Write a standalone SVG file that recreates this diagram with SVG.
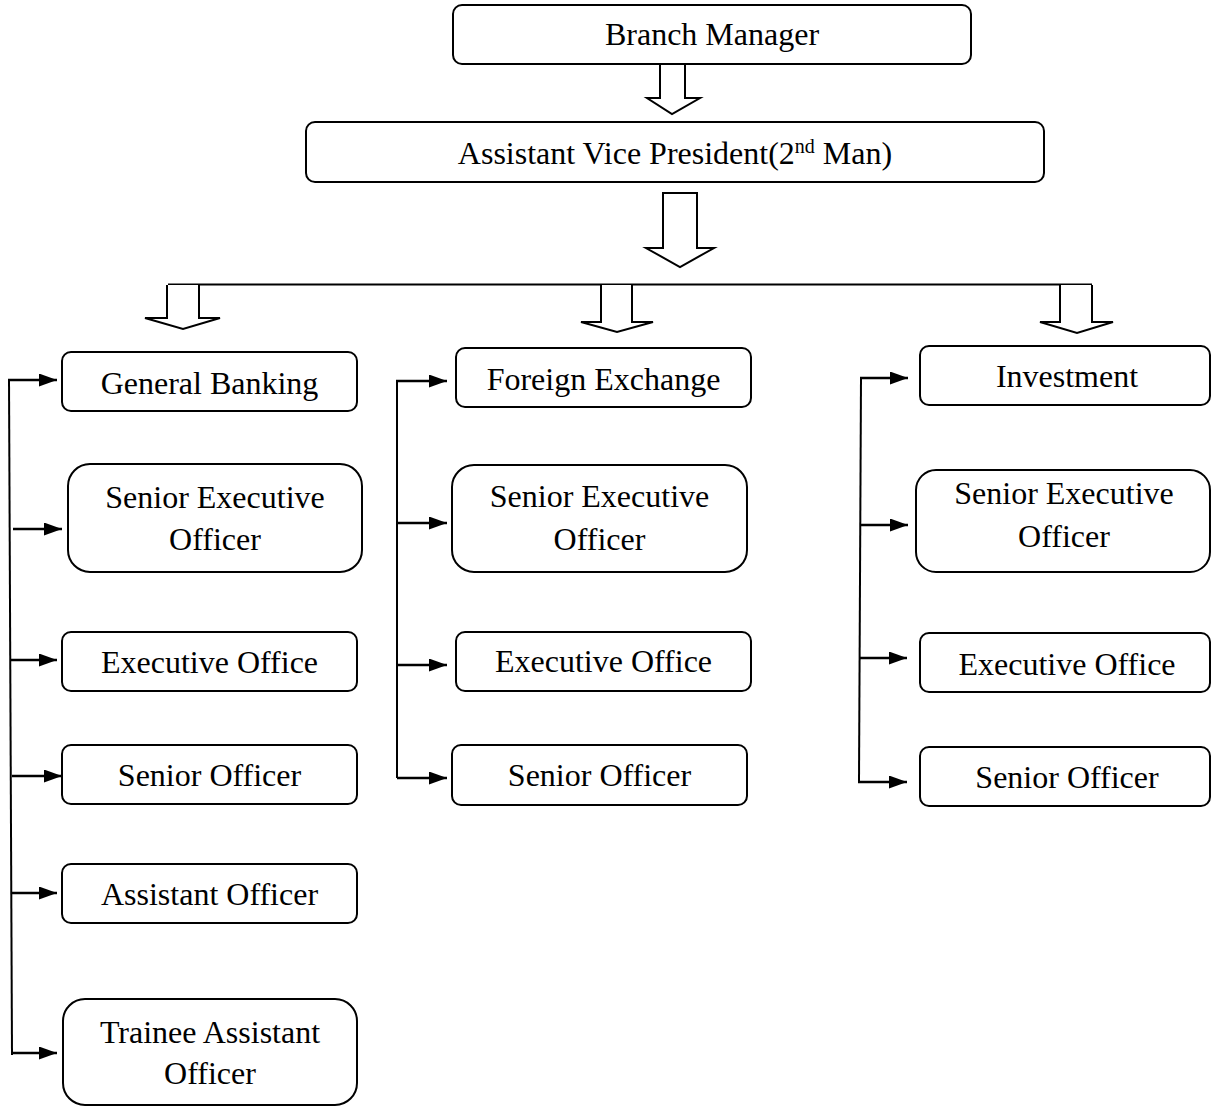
<svg xmlns="http://www.w3.org/2000/svg" width="1211" height="1107" viewBox="0 0 1211 1107">
<defs>
<marker id="ah" viewBox="0 0 18 13" refX="18" refY="6.5" markerWidth="18" markerHeight="13" markerUnits="userSpaceOnUse" orient="auto">
<path d="M0,0 L18,6.5 L0,13 z" fill="#000"/>
</marker>
<style>
.box{fill:#fff;stroke:#000;stroke-width:2}
.t{font-family:"Liberation Serif","Times New Roman",serif;font-size:32px;fill:#000;text-anchor:middle}
.ln{fill:none;stroke:#000;stroke-width:2}
.ar{fill:none;stroke:#000;stroke-width:2.5;marker-end:url(#ah)}
.blk{fill:#fff;stroke:#000;stroke-width:2;stroke-linejoin:miter}
</style>
</defs>
<rect width="1211" height="1107" fill="#fff"/>

<g id="connectors">
<line class="ln" x1="168" y1="284.5" x2="1092" y2="284.5"/>
<path class="blk" d="M660,64 L660,98 L647,98 L672,114 L700,98 L685,98 L685,64"/>
<path class="blk" d="M663,193 L663,248 L646,248 L680,267 L714,248 L697,248 L697,193 Z"/>
<path class="blk" d="M167,285 L167,318 L145,318 L183,329 L220,318 L199,318 L199,285"/>
<path class="blk" d="M601,285 L601,322 L581,322 L617,332 L653,322 L632,322 L632,285"/>
<path class="blk" d="M1060,285 L1060,322 L1040,322 L1077,333 L1113,322 L1092,322 L1092,285"/>
<line class="ln" x1="9" y1="379" x2="12" y2="1055"/>
<path class="ar" d="M8,380 L57,380"/>
<path class="ar" d="M13,529 L62,529"/>
<path class="ar" d="M11,660 L57,660"/>
<path class="ar" d="M12,776 L62,776"/>
<path class="ar" d="M12,893 L57,893"/>
<path class="ar" d="M11,1053 L57,1053"/>
<line class="ln" x1="397" y1="380" x2="397" y2="778"/>
<path class="ar" d="M396,381 L447,381"/>
<path class="ar" d="M397,523 L447,523"/>
<path class="ar" d="M397,665 L447,665"/>
<path class="ar" d="M397,778 L447,778"/>
<line class="ln" x1="861" y1="378" x2="859" y2="782"/>
<path class="ar" d="M860,378 L908,378"/>
<path class="ar" d="M860,525 L908,525"/>
<path class="ar" d="M859,658 L907,658"/>
<path class="ar" d="M858,782 L907,782"/>
</g>

<g id="branch-manager">
<rect class="box" x="453" y="5" width="518" height="59" rx="9"/>
<text class="t" x="712" y="45">Branch Manager</text>
</g>
<g id="avp">
<rect class="box" x="306" y="122" width="738" height="60" rx="9"/>
<text class="t" x="675" y="164">Assistant Vice President(2<tspan font-size="20" dy="-11">nd</tspan><tspan dy="11"> Man)</tspan></text>
</g>

<g id="general-banking">
<rect class="box" x="62" y="352" width="295" height="59" rx="9"/>
<text class="t" x="209.5" y="394">General Banking</text>
</g>
<g id="gb-seo">
<rect class="box" x="68" y="464" width="294" height="108" rx="22"/>
<text class="t" x="215" y="508">Senior Executive</text>
<text class="t" x="215" y="550">Officer</text>
</g>
<g id="gb-eo">
<rect class="box" x="62" y="632" width="295" height="59" rx="9"/>
<text class="t" x="209.5" y="673">Executive Office</text>
</g>
<g id="gb-so">
<rect class="box" x="62" y="745" width="295" height="59" rx="9"/>
<text class="t" x="209.5" y="786">Senior Officer</text>
</g>
<g id="gb-ao">
<rect class="box" x="62" y="864" width="295" height="59" rx="9"/>
<text class="t" x="209.5" y="905">Assistant Officer</text>
</g>
<g id="gb-tao">
<rect class="box" x="63" y="999" width="294" height="106" rx="22"/>
<text class="t" x="210" y="1043">Trainee Assistant</text>
<text class="t" x="210" y="1084">Officer</text>
</g>

<g id="foreign-exchange">
<rect class="box" x="456" y="348" width="295" height="59" rx="9"/>
<text class="t" x="603.5" y="390">Foreign Exchange</text>
</g>
<g id="fe-seo">
<rect class="box" x="452" y="465" width="295" height="107" rx="22"/>
<text class="t" x="599.5" y="507">Senior Executive</text>
<text class="t" x="599.5" y="550">Officer</text>
</g>
<g id="fe-eo">
<rect class="box" x="456" y="632" width="295" height="59" rx="9"/>
<text class="t" x="603.5" y="672">Executive Office</text>
</g>
<g id="fe-so">
<rect class="box" x="452" y="745" width="295" height="60" rx="9"/>
<text class="t" x="599.5" y="786">Senior Officer</text>
</g>

<g id="investment">
<rect class="box" x="920" y="346" width="290" height="59" rx="9"/>
<text class="t" x="1067" y="387">Investment</text>
</g>
<g id="inv-seo">
<rect class="box" x="916" y="470" width="294" height="102" rx="20"/>
<text class="t" x="1064" y="504">Senior Executive</text>
<text class="t" x="1064" y="547">Officer</text>
</g>
<g id="inv-eo">
<rect class="box" x="920" y="633" width="290" height="59" rx="9"/>
<text class="t" x="1067" y="675">Executive Office</text>
</g>
<g id="inv-so">
<rect class="box" x="920" y="747" width="290" height="59" rx="9"/>
<text class="t" x="1067" y="788">Senior Officer</text>
</g>
</svg>
